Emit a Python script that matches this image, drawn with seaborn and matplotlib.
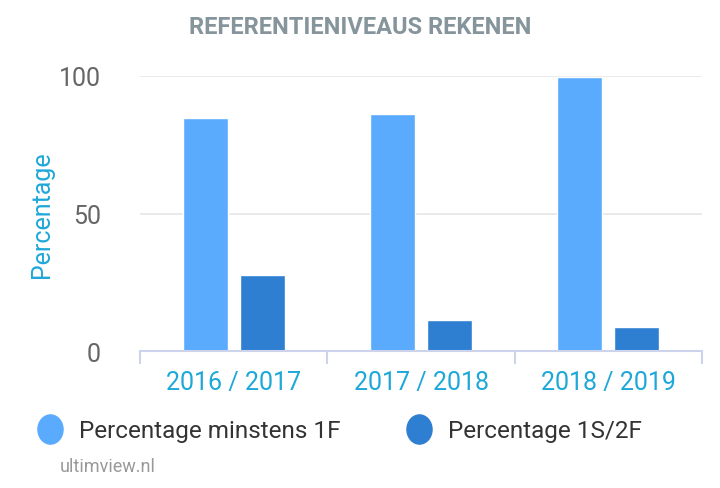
import matplotlib
matplotlib.use("Agg")
import matplotlib.pyplot as plt
import pandas as pd
import seaborn as sns
from matplotlib.lines import Line2D
from matplotlib.path import Path
from matplotlib.transforms import Affine2D

years = ["2016 / 2017", "2017 / 2018", "2018 / 2019"]
series_names = ["Percentage minstens 1F", "Percentage 1S/2F"]
minstens_1f = [84.8, 86.2, 99.6]
niveau_1s_2f = [27.7, 11.4, 8.6]
y_ticks = [0, 50, 100]

light_blue = "#5aabfe"
dark_blue = "#2e7fd2"
cyan = "#1ea8d8"
grey_text = "#666666"
axis_color = "#ccd3ea"


def build_frame():
    rows = []
    for name, values in zip(series_names, [minstens_1f, niveau_1s_2f]):
        for year, value in zip(years, values):
            rows.append({"jaar": year, "reeks": name, "waarde": value})
    return pd.DataFrame(rows)


def main():
    sns.set_theme(style="white")
    plt.rcParams["font.family"] = ["Roboto", "DejaVu Sans"]

    data = build_frame()
    fig = plt.figure(figsize=(7.2, 4.89), dpi=100)
    ax = fig.add_axes([140 / 720, 1 - 352 / 489, 562 / 720, 275 / 489])

    sns.barplot(data=data, x="jaar", y="waarde", hue="reeks", order=years,
                hue_order=series_names, palette=[light_blue, dark_blue],
                width=0.61, gap=0.21, ax=ax, legend=False, saturation=1)

    ax.set_xlim(-0.5, 2.5)
    ax.set_ylim(0, 100)
    ax.set_yticks(y_ticks)
    ax.set_yticklabels([str(t) for t in y_ticks])
    ax.yaxis.grid(True, color="#e6e6e6", linewidth=1.2)
    ax.set_axisbelow(True)
    for side in ["top", "right", "left"]:
        ax.spines[side].set_visible(False)
    ax.spines["bottom"].set_color(axis_color)
    ax.spines["bottom"].set_linewidth(1.5)

    ax.set_xticks([-0.5, 0.5, 1.5, 2.5], minor=True)
    ax.tick_params(axis="x", which="minor", length=9, width=1.5, color=axis_color,
                   direction="out", bottom=True)
    ax.tick_params(axis="x", which="major", length=0, pad=14, labelsize=18,
                   labelcolor=cyan)
    ax.tick_params(axis="y", length=0, pad=28, labelsize=18, labelcolor=grey_text)

    ax.set_xlabel("")
    ax.set_ylabel("Percentage", color=cyan, fontsize=18, labelpad=4)

    fig.text(0.5, 1 - 28 / 489, "REFERENTIENIVEAUS REKENEN", ha="center",
             va="center", fontsize=17, fontweight="bold", color="#86959b")
    fig.text(60 / 720, 1 - 467 / 489, "ultimview.nl", ha="left", va="center",
             fontsize=13, color="#999999")

    # ellipse-shaped legend marker, a bit taller than wide
    ellipse = Path.unit_circle().transformed(Affine2D().scale(0.86, 1.0))
    handles = [
        Line2D([], [], linestyle="none", marker=ellipse, markersize=21,
               markerfacecolor=color, markeredgecolor=color)
        for color in [light_blue, dark_blue]
    ]
    fig.legend(handles, series_names, loc="center left",
               bbox_to_anchor=(38 / 720, 1 - 432 / 489), ncol=2, frameon=False,
               fontsize=17.5, handlelength=1.0, handletextpad=0.7,
               columnspacing=2.7, borderpad=0, borderaxespad=0,
               labelcolor="#333333")

    fig.savefig("out.png", dpi=100)
    plt.close(fig)


if __name__ == "__main__":
    main()
